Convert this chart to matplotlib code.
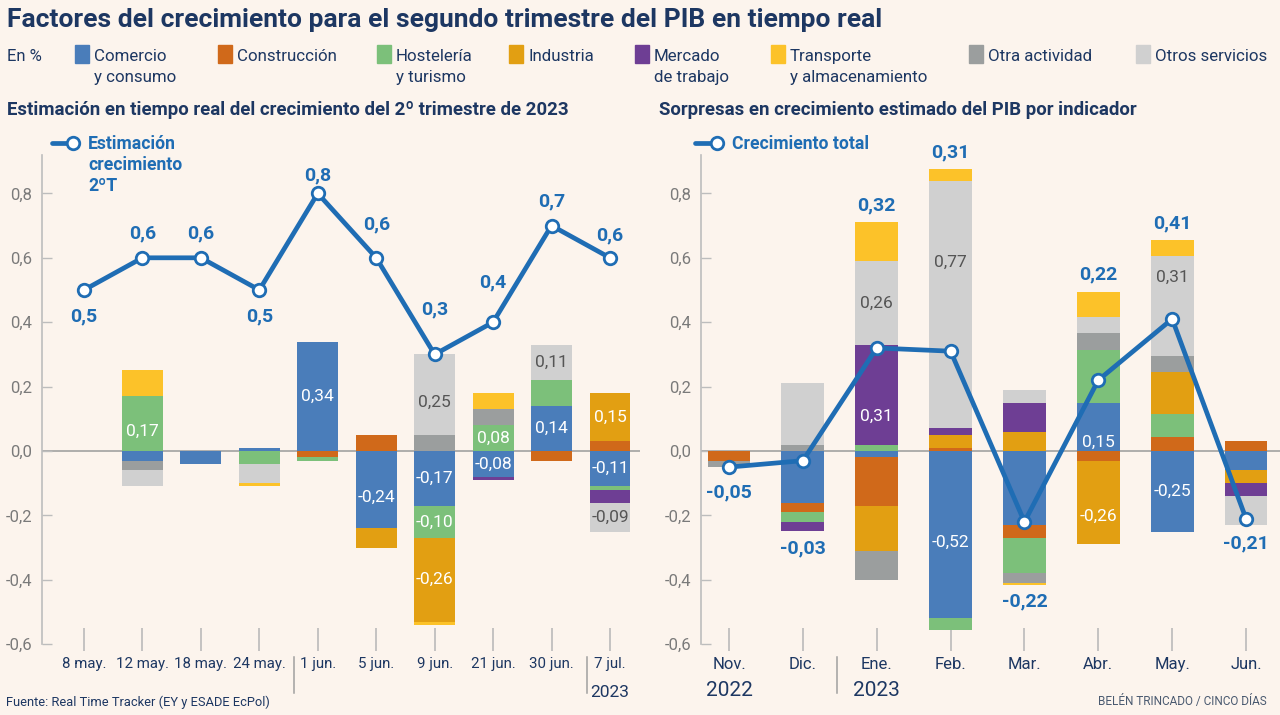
import matplotlib
matplotlib.use("Agg")
import matplotlib.pyplot as plt
import matplotlib.transforms as mtransforms
from matplotlib.patches import Rectangle
from matplotlib.lines import Line2D
import numpy as np

# ------------------------------------------------------------------ data
left_dates = ['8 may.', '12 may.', '18 may.', '24 may.', '1 jun.', '5 jun.',
              '9 jun.', '21 jun.', '30 jun.', '7 jul.']
left_estimate = [0.5, 0.6, 0.6, 0.5, 0.8, 0.6, 0.3, 0.4, 0.7, 0.6]
left_comercio = [0, -0.03, -0.04, 0.01, 0.34, -0.24, -0.17, -0.08, 0.14, -0.11]
left_construccion = [0, 0, 0, 0, -0.02, 0.05, 0, 0, -0.03, 0.03]
left_hosteleria = [0, 0.17, 0, -0.04, -0.01, 0, -0.10, 0.08, 0.08, -0.01]
left_industria = [0, 0, 0, 0, 0, -0.06, -0.26, 0, 0, 0.15]
left_mercado = [0, 0, 0, 0, 0, 0, 0, -0.01, 0, -0.04]
left_transporte = [0, 0.08, 0, -0.01, 0, 0, -0.01, 0.05, 0, 0]
left_otra = [0, -0.03, 0, 0, 0, 0, 0.05, 0.05, 0, 0]
left_otros = [0, -0.05, 0, -0.06, 0, 0, 0.25, 0, 0.11, -0.09]

right_months = ['Nov.', 'Dic.', 'Ene.', 'Feb.', 'Mar.', 'Abr.', 'May.', 'Jun.']
right_total = [-0.05, -0.03, 0.32, 0.31, -0.22, 0.22, 0.41, -0.21]
right_comercio = [0, -0.16, -0.02, -0.52, -0.23, 0.15, -0.25, -0.06]
right_construccion = [-0.03, -0.03, -0.15, 0.01, -0.04, -0.03, 0.045, 0.03]
right_hosteleria = [0, -0.03, 0.02, -0.035, -0.11, 0.165, 0.07, 0]
right_industria = [0, 0, -0.14, 0.04, 0.06, -0.26, 0.13, -0.04]
right_mercado = [0, -0.03, 0.31, 0.02, 0.09, 0, 0, -0.04]
right_transporte = [0, 0, 0.12, 0.035, -0.005, 0.08, 0.05, 0]
right_otra = [-0.02, 0.02, -0.09, 0, -0.03, 0.05, 0.05, 0]
right_otros = [0, 0.19, 0.26, 0.77, 0.04, 0.05, 0.31, -0.09]

legend_keys = ['comercio', 'construccion', 'hosteleria', 'industria',
               'mercado', 'transporte', 'otra', 'otros']
legend_names = ['Comercio\ny consumo', 'Construcción', 'Hostelería\ny turismo',
                'Industria', 'Mercado\nde trabajo', 'Transporte\ny almacenamiento',
                'Otra actividad', 'Otros servicios']

# ------------------------------------------------------------------ style
BG = '#fcf4ed'
NAVY = '#1d3762'
LINE = '#1f6db4'
GREY_TXT = '#7a7a7a'
colors = {
    'comercio': '#4a7dba',
    'construccion': '#d0691a',
    'hosteleria': '#7cc07a',
    'industria': '#e29f12',
    'mercado': '#6e3e94',
    'transporte': '#fcc229',
    'otra': '#9b9e9e',
    'otros': '#d0d0d0',
}
stack_order = ['comercio', 'construccion', 'hosteleria', 'industria',
               'mercado', 'otra', 'otros', 'transporte']
legend_x_px = [75, 218, 377, 509, 635, 771, 969, 1136]

# label placement (layout only)
left_line_dy_px = [-26, 24, 24, -26, 18, 33, 45, 40, 24, 22]
left_bar_labels = [(1, 'hosteleria', -8), (4, 'comercio', 0), (5, 'comercio', -8),
                   (6, 'otros', -8), (6, 'comercio', 0), (6, 'hosteleria', 0),
                   (6, 'industria', 0), (7, 'hosteleria', 0), (7, 'comercio', 0),
                   (8, 'otros', 0), (8, 'comercio', 0), (9, 'industria', 0),
                   (9, 'comercio', 0), (9, 'otros', 0)]
right_bar_labels = [(2, 'mercado', -22), (2, 'otros', 0), (3, 'otros', 42),
                    (3, 'comercio', -8), (5, 'comercio', -15), (5, 'industria', -14),
                    (6, 'otros', 29), (6, 'comercio', 0)]

plt.rcParams['font.family'] = ['Roboto', 'DejaVu Sans']

W, H = 1280, 715
fig = plt.figure(figsize=(W / 100, H / 100), dpi=100, facecolor=BG)


def fx(x):
    return x / W


def fy(y):
    return 1 - y / H


def ftext(x, y, s, **kw):
    return fig.text(fx(x), fy(y), s, **kw)


def fmt(v, nd=2):
    return f"{v:.{nd}f}".replace('.', ',')


# ------------------------------------------------------------------ header
ftext(7, 27, 'Factores del crecimiento para el segundo trimestre del PIB en tiempo real',
      fontsize=19, fontweight='bold', color=NAVY, va='baseline')
ftext(7, 61, 'En %', fontsize=12, color=NAVY, va='baseline')
for xk, key, name in zip(legend_x_px, legend_keys, legend_names):
    fig.patches.append(Rectangle((fx(xk), fy(63)), 14 / W, 18 / H,
                                 transform=fig.transFigure, color=colors[key]))
    for j, line in enumerate(name.split('\n')):
        ftext(xk + 19, 61 + 21 * j, line, fontsize=12.2, color=NAVY, va='baseline')

ftext(7, 115, 'Estimación en tiempo real del crecimiento del 2º trimestre de 2023',
      fontsize=13.4, fontweight='bold', color=NAVY, va='baseline')
ftext(659, 115, 'Sorpresas en crecimiento estimado del PIB por indicador',
      fontsize=13.4, fontweight='bold', color=NAVY, va='baseline')

# ------------------------------------------------------------------ axes
Y0_PX = 451.0
PX_PER_UNIT = 322.0
YTOP, YBOT = 0.92, -0.621
top_px = Y0_PX - YTOP * PX_PER_UNIT
bot_px = Y0_PX - YBOT * PX_PER_UNIT


def make_axes(left_px, right_px):
    ax = fig.add_axes([fx(left_px), fy(bot_px), (right_px - left_px) / W,
                       (bot_px - top_px) / H])
    ax.set_facecolor('none')
    ax.set_ylim(YBOT, YTOP)
    for s in ['top', 'right', 'bottom']:
        ax.spines[s].set_visible(False)
    ax.spines['left'].set_color('#bdbdbd')
    ax.spines['left'].set_linewidth(1.2)
    ax.spines['left'].set_bounds(-0.6, YTOP)
    yt = [-0.6, -0.4, -0.2, 0.0, 0.2, 0.4, 0.6, 0.8]
    ax.set_yticks(yt)
    ax.set_yticklabels([fmt(v, 1) for v in yt])
    ax.tick_params(axis='y', direction='in', length=7, width=1, color='#bdbdbd',
                   labelcolor=GREY_TXT, labelsize=12, pad=7)
    ax.tick_params(axis='x', direction='in', length=16.5, width=1.1, color='#b5b5b5',
                   labelcolor=NAVY, pad=4)
    ax.axhline(0, color='#9a9a9a', lw=1.1, zorder=1)
    return ax


def stacked(ax, comps, width):
    n = len(next(iter(comps.values())))
    x = np.arange(n)
    pos = np.zeros(n)
    neg = np.zeros(n)
    seg = {}
    for key in stack_order:
        vals = np.asarray(comps[key], dtype=float)
        bottoms = np.where(vals >= 0, pos, neg)
        mask = vals != 0
        ax.bar(x[mask], vals[mask], bottom=bottoms[mask], width=width,
               color=colors[key], edgecolor='none', zorder=2)
        for i in np.where(mask)[0]:
            seg[(i, key)] = (bottoms[i], vals[i])
        pos = pos + np.where(vals > 0, vals, 0)
        neg = neg + np.where(vals < 0, vals, 0)
    return seg, pos, neg


def bar_labels(ax, seg, specs):
    for i, key, dy in specs:
        b, v = seg[(i, key)]
        c = '#555555' if key == 'otros' else 'white'
        ax.annotate(fmt(v), (i, b + v / 2), xytext=(0, dy * 0.72),
                    textcoords='offset points', ha='center', va='center',
                    fontsize=12.5, color=c, zorder=3)


def legend_line(x0, x1, y):
    fig.add_artist(Line2D([fx(x0), fx(x1)], [fy(y), fy(y)], color=LINE, lw=3.4,
                          solid_capstyle='round'))
    fig.add_artist(Line2D([fx(x1)], [fy(y)], marker='o', markersize=9,
                          markerfacecolor='white', markeredgecolor=LINE, mew=2))


# ---------------- left chart
cat_l0, step_l = 84.0, 58.44
axL = make_axes(42, 640)
axL.set_xlim((42 - cat_l0) / step_l, (640 - cat_l0) / step_l)
left_comps = dict(comercio=left_comercio, construccion=left_construccion,
                  hosteleria=left_hosteleria, industria=left_industria,
                  mercado=left_mercado, transporte=left_transporte,
                  otra=left_otra, otros=left_otros)
segL, posL, negL = stacked(axL, left_comps, 0.70)
bar_labels(axL, segL, left_bar_labels)
xl = np.arange(len(left_dates))
axL.plot(xl, left_estimate, color=LINE, lw=3.4, zorder=4)
axL.plot(xl, left_estimate, ls='none', marker='o', markersize=9,
         markerfacecolor='white', markeredgecolor=LINE, mew=2, zorder=5)
for i, (v, dy) in enumerate(zip(left_estimate, left_line_dy_px)):
    axL.annotate(fmt(v, 1), (i, v), xytext=(0, dy * 0.72), textcoords='offset points',
                 ha='center', va='center', fontsize=14, fontweight='bold',
                 color=LINE, zorder=6)
axL.set_xticks(xl)
axL.set_xticklabels(left_dates, fontsize=10.8)

legend_line(52, 73, 143)
for j, line in enumerate(['Estimación', 'crecimiento', '2ºT']):
    ftext(88, 149 + 21 * j, line, fontsize=12.7, fontweight='bold', color=LINE,
          va='baseline')

# ---------------- right chart
cat_r0, step_r = 729.0, 73.86
axR = make_axes(701, 1280)
axR.set_xlim((701 - cat_r0) / step_r, (1280 - cat_r0) / step_r)
right_comps = dict(comercio=right_comercio, construccion=right_construccion,
                   hosteleria=right_hosteleria, industria=right_industria,
                   mercado=right_mercado, transporte=right_transporte,
                   otra=right_otra, otros=right_otros)
segR, posR, negR = stacked(axR, right_comps, 0.58)
bar_labels(axR, segR, right_bar_labels)
xr = np.arange(len(right_months))
axR.plot(xr, right_total, color=LINE, lw=3.4, zorder=4)
axR.plot(xr, right_total, ls='none', marker='o', markersize=9,
         markerfacecolor='white', markeredgecolor=LINE, mew=2, zorder=5)
mk = 8 / PX_PER_UNIT
for i, v in enumerate(right_total):
    if v >= 0:
        ext, dy = max(posR[i], v + mk), 17
    else:
        ext, dy = min(negR[i], v - mk), -17
    axR.annotate(fmt(v), (i, ext), xytext=(0, dy * 0.72), textcoords='offset points',
                 ha='center', va='center', fontsize=14, fontweight='bold',
                 color=LINE, zorder=6)
axR.set_xticks(xr)
axR.set_xticklabels(right_months, fontsize=12)

legend_line(695, 717, 143)
ftext(732, 149, 'Crecimiento total', fontsize=12.7, fontweight='bold', color=LINE,
      va='baseline')

# ---------------- separators and years
for ax, xs in ((axL, [3.6, 8.6]), (axR, [1.46])):
    tr = mtransforms.blended_transform_factory(ax.transData, fig.transFigure)
    for xv in xs:
        ax.add_line(Line2D([xv, xv], [fy(657), fy(693)], transform=tr,
                           color='#a0a0a0', lw=1.1, clip_on=False))
trL = mtransforms.blended_transform_factory(axL.transData, fig.transFigure)
axL.text(9, fy(697), '2023', transform=trL, ha='center', va='baseline',
         fontsize=12.5, color=NAVY)
trR = mtransforms.blended_transform_factory(axR.transData, fig.transFigure)
axR.text(0, fy(696), '2022', transform=trR, ha='center', va='baseline',
         fontsize=15, color=NAVY)
axR.text(2, fy(696), '2023', transform=trR, ha='center', va='baseline',
         fontsize=15, color=NAVY)

# ---------------- footer
ftext(6, 706, 'Fuente: Real Time Tracker (EY y ESADE EcPol)', fontsize=9.3,
      color=NAVY, va='baseline')
ftext(1267, 705, 'BELÉN TRINCADO / CINCO DÍAS', fontsize=8.5, color='#4a5a70',
      va='baseline', ha='right')

fig.savefig('out.png', dpi=100, facecolor=BG)
